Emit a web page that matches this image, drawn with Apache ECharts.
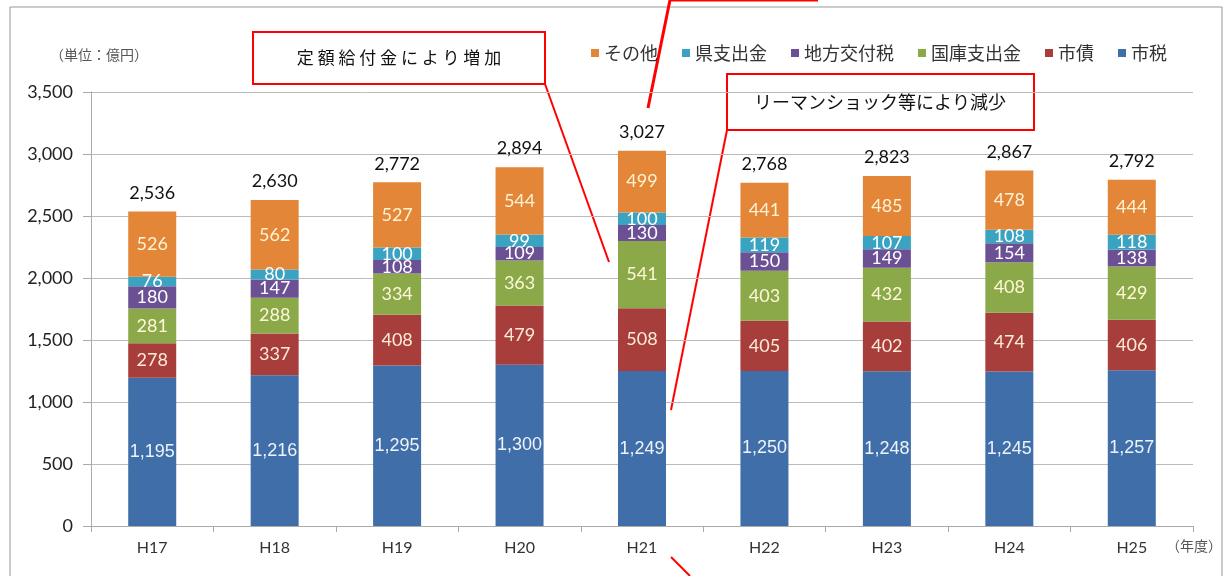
<!DOCTYPE html>
<html>
<head>
<meta charset="utf-8">
<title>歳入の推移</title>
<script src="https://cdn.jsdelivr.net/npm/echarts@6/dist/echarts.min.js"></script>
<style>
  html, body { margin: 0; padding: 0; background: #fff; }
  #chart { width: 1226px; height: 576px; }
</style>
</head>
<body>
<div id="chart"></div>
<script>
// 年度
const years = ['H17', 'H18', 'H19', 'H20', 'H21', 'H22', 'H23', 'H24', 'H25'];
// 歳入の内訳（億円）
const shizei = [1195, 1216, 1295, 1300, 1249, 1250, 1248, 1245, 1257];
const shisai = [278, 337, 408, 479, 508, 405, 402, 474, 406];
const kokko = [281, 288, 334, 363, 541, 403, 432, 408, 429];
const chihou = [180, 147, 108, 109, 130, 150, 149, 154, 138];
const kenshi = [76, 80, 100, 99, 100, 119, 107, 108, 118];
const sonota = [526, 562, 527, 544, 499, 441, 485, 478, 444];
const totals = [2536, 2630, 2772, 2894, 3027, 2768, 2823, 2867, 2792];
const yTicks = [0, 500, 1000, 1500, 2000, 2500, 3000, 3500];

const fmt = v => Number(v).toLocaleString('en-US');
const jp = '"Noto Sans CJK JP", sans-serif';
const num = 'Lato, "Noto Sans", sans-serif';

const chart = echarts.init(document.getElementById('chart'));

function seg(name, data, color, labelColor, font) {
  return {
    name: name,
    type: 'bar',
    stack: 'total',
    data: data,
    barWidth: 48,
    itemStyle: { color: color },
    label: {
      show: true,
      position: 'inside',
      color: labelColor,
      fontSize: 18,
      fontFamily: font || num,
      formatter: p => fmt(p.value)
    }
  };
}

const option = {
  animation: false,
  grid: { left: 91, right: 33, top: 92, bottom: 50 },
  legend: {
    data: ['その他', '県支出金', '地方交付税', '国庫支出金', '市債', '市税'],
    top: 39,
    right: 54,
    icon: 'rect',
    itemWidth: 8,
    itemHeight: 8,
    itemGap: 24,
    textStyle: { fontFamily: jp, fontSize: 18, color: '#333' }
  },
  xAxis: {
    type: 'category',
    data: years,
    axisLine: { lineStyle: { color: '#aaa' } },
    axisTick: { show: true, length: 6, lineStyle: { color: '#aaa' } },
    axisLabel: { color: '#333', fontSize: 16, fontFamily: num, margin: 14 }
  },
  yAxis: {
    type: 'value',
    min: 0,
    max: yTicks[yTicks.length - 1],
    interval: 500,
    axisLine: { show: true, lineStyle: { color: '#aaa' } },
    axisTick: { show: true, length: 8, lineStyle: { color: '#aaa' } },
    splitLine: { lineStyle: { color: '#bbb' } },
    axisLabel: { color: '#222', fontSize: 18, fontFamily: num, margin: 18, formatter: v => fmt(v) }
  },
  series: [
    seg('市税', shizei, '#3F6EA8', '#EEF3FA', '"Liberation Sans", Arial, sans-serif'),
    seg('市債', shisai, '#A83E3C', '#FCEBD8'),
    seg('国庫支出金', kokko, '#8BA948', '#FFF7DA'),
    seg('地方交付税', chihou, '#6C5094', '#FFFFFF'),
    seg('県支出金', kenshi, '#3AA3C1', '#FFFFFF'),
    seg('その他', sonota, '#E38637', '#FFF3D6'),
    {
      name: '合計',
      type: 'line',
      data: totals,
      symbol: 'circle',
      symbolSize: 1,
      showSymbol: true,
      itemStyle: { color: 'rgba(0,0,0,0)' },
      lineStyle: { opacity: 0 },
      silent: true,
      label: {
        show: true,
        position: 'top',
        distance: 9,
        color: '#111',
        fontSize: 18,
        fontFamily: num,
        formatter: p => fmt(p.value)
      }
    }
  ],
  graphic: [
    // 外枠
    { type: 'rect', shape: { x: 10, y: 7, width: 1212, height: 600 },
      style: { fill: 'none', stroke: '#999', lineWidth: 1 }, silent: true },
    { type: 'text', left: 50, top: 48,
      style: { text: '（単位：億円）', fill: '#555', font: '14px ' + jp } },
    { type: 'text', left: 1166, top: 539,
      style: { text: '（年度）', fill: '#555', font: '14px ' + jp } },
    // 注記1
    { type: 'rect', shape: { x: 253, y: 32, width: 292, height: 52 },
      style: { fill: '#fff', stroke: '#f00', lineWidth: 2 } },
    { type: 'text', x: 399, y: 58,
      style: { text: '定 額 給 付 金 に よ り 増 加', fill: '#111', font: '17px ' + jp,
        align: 'center', verticalAlign: 'middle' } },
    { type: 'line', shape: { x1: 545, y1: 84, x2: 609, y2: 262 },
      style: { stroke: '#f00', lineWidth: 2 } },
    // 注記2
    { type: 'rect', shape: { x: 727, y: 74, width: 307, height: 56 },
      style: { fill: '#fff', stroke: '#f00', lineWidth: 2 } },
    { type: 'text', x: 880, y: 102,
      style: { text: 'リーマンショック等により減少', fill: '#111', font: '18px ' + jp,
        align: 'center', verticalAlign: 'middle' } },
    { type: 'line', shape: { x1: 727, y1: 130, x2: 671, y2: 410 },
      style: { stroke: '#f00', lineWidth: 2 } },
    // 上下の引出線（枠外の注記）
    { type: 'polyline', shape: { points: [[648, 108], [670, 0], [818, 0]] },
      style: { stroke: '#f00', lineWidth: 3, fill: 'none' } },
    { type: 'line', shape: { x1: 671, y1: 557, x2: 690, y2: 576 },
      style: { stroke: '#f00', lineWidth: 2 } }
  ]
};

chart.setOption(option);
</script>
</body>
</html>
